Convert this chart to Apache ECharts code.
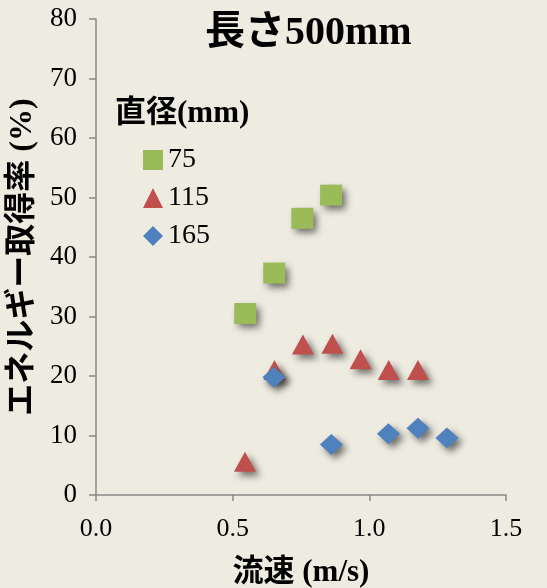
<!DOCTYPE html>
<html><head><meta charset="utf-8">
<script src="https://cdn.jsdelivr.net/npm/echarts@6/dist/echarts.min.js"></script>
<style>html,body{margin:0;padding:0;background:#eeece1;}#c{width:547px;height:588px;}</style>
</head><body><div id="c"></div>
<script>
const seriesNames = ['75', '115', '165'];
const d75x = [0.546, 0.652, 0.755, 0.860];
const d75y = [30.5, 37.3, 46.5, 50.4];
const d115x = [0.545, 0.653, 0.757, 0.865, 0.968, 1.071, 1.178];
const d115y = [5.6, 21.0, 25.3, 25.4, 22.8, 21.0, 21.0];
const d165x = [0.651, 0.861, 1.070, 1.178, 1.284];
const d165y = [19.8, 8.5, 10.3, 11.2, 9.6];
const xTicks = ['0.0', '0.5', '1.0', '1.5'];
const yTicks = ['0', '10', '20', '30', '40', '50', '60', '70', '80'];

const FONT = "'Liberation Serif', 'Noto Sans CJK JP', serif";
const zip = (xs, ys) => xs.map((x, i) => [x, ys[i]]);
const shadow = {opacity: 1, shadowColor: 'rgba(0,0,0,0.55)', shadowBlur: 7, shadowOffsetX: 4, shadowOffsetY: 4};

const chart = echarts.init(document.getElementById('c'));
chart.setOption({
  backgroundColor: '#eeece1',
  animation: false,
  grid: {left: 96, right: 41, top: 19, bottom: 93, containLabel: false, outerBoundsMode: 'none'},
  graphic: [
    {type: 'text', left: 205, top: 14, style: {text: '長さ500mm', font: "bold 40px " + FONT, fill: '#000'}},
    {type: 'text', left: 115, top: 98, style: {text: '直径(mm)', font: "bold 31px " + FONT, fill: '#000'}}
  ],
  legend: {
    orient: 'vertical', left: 143, top: 146, padding: 0,
    itemWidth: 20, itemHeight: 20, itemGap: 10,
    data: [
      {name: '75', icon: 'rect'},
      {name: '115', icon: 'triangle'},
      {name: '165', icon: 'diamond'}
    ],
    itemStyle: {shadowBlur: 0, shadowColor: 'transparent', shadowOffsetX: 0, shadowOffsetY: 0},
    textStyle: {fontFamily: FONT, fontSize: 28, color: '#000', lineHeight: 28}
  },
  xAxis: {
    type: 'value', min: 0, max: 1.5, interval: 0.5,
    name: '流速 (m/s)', nameLocation: 'middle', nameGap: 62,
    nameTextStyle: {fontFamily: FONT, fontSize: 31, fontWeight: 'bold', color: '#000'},
    axisLine: {show: true, lineStyle: {color: '#888', width: 1.5}},
    axisTick: {show: true, length: 6, lineStyle: {color: '#888', width: 1.5}},
    axisLabel: {fontFamily: FONT, fontSize: 26, color: '#000', margin: 21,
      formatter: v => xTicks[Math.round(v / 0.5)]},
    splitLine: {show: false}
  },
  yAxis: {
    type: 'value', min: 0, max: 80, interval: 10,
    name: 'エネルギー取得率 (%)', nameLocation: 'middle', nameGap: 46, nameRotate: 90,
    nameTextStyle: {fontFamily: FONT, fontSize: 32, fontWeight: 'bold', color: '#000'},
    axisLine: {show: true, lineStyle: {color: '#888', width: 1.5}},
    axisTick: {show: true, length: 7, lineStyle: {color: '#888', width: 1.5}},
    axisLabel: {fontFamily: FONT, fontSize: 27, color: '#000', margin: 19,
      formatter: v => yTicks[Math.round(v / 10)]},
    splitLine: {show: false}
  },
  series: [
    {name: seriesNames[0], type: 'scatter', symbol: 'rect', symbolSize: [22, 21],
     itemStyle: Object.assign({color: '#9bbb59'}, shadow), data: zip(d75x, d75y)},
    {name: seriesNames[1], type: 'scatter', symbol: 'triangle', symbolSize: [22, 20],
     itemStyle: Object.assign({color: '#c0504d'}, shadow), data: zip(d115x, d115y)},
    {name: seriesNames[2], type: 'scatter', symbol: 'diamond', symbolSize: [23, 21],
     itemStyle: Object.assign({color: '#4f81bd'}, shadow), data: zip(d165x, d165y), z: 3}
  ]
});
</script></body></html>
